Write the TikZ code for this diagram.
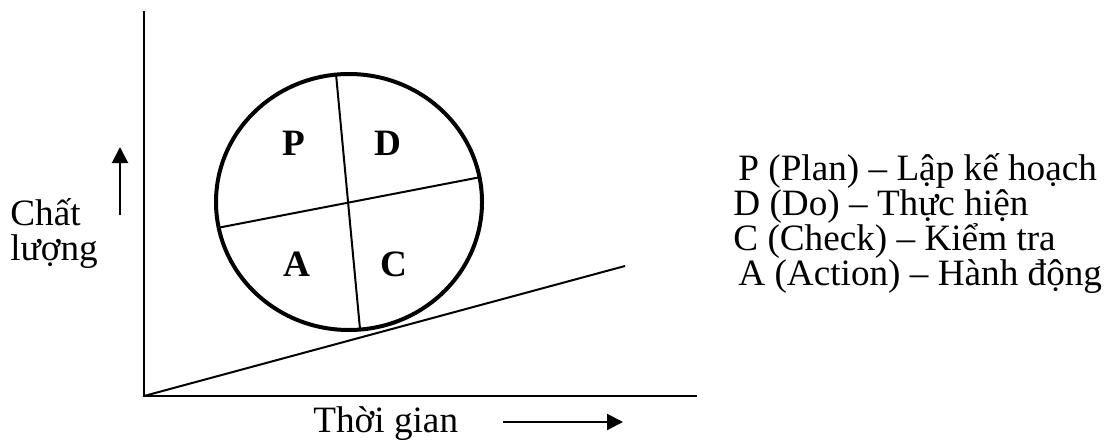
\documentclass[tikz,border=0pt]{standalone}
\usepackage{fontspec}
\setmainfont{Liberation Serif}
\usetikzlibrary{arrows.meta,positioning}
\tikzset{
  every picture/.style={font=\fontsize{18.6}{20}\selectfont},
  axis/.style={line width=1pt},
  ring/.style={line width=2pt},
  split/.style={line width=1pt},
  pointer/.style={line width=1pt,-{Triangle[length=8pt,width=8pt]}},
  quarter/.style={font=\fontsize{18.6}{20}\selectfont\bfseries,inner sep=0pt},
  key/.style={anchor=base west,inner sep=0pt},
}

\begin{document}
\begin{tikzpicture}[x=0.5pt,y=0.5pt]
  \useasboundingbox (0,0) rectangle (1107,440);
  % axes
  \coordinate (origin) at (144,44);
  \coordinate (ytop) at (144,429);
  \coordinate (xend) at (697,44);
  \coordinate (slope) at (625,174);
  \draw[axis] (ytop) -- (origin) -- (xend);
  \draw[axis] (origin) -- (slope);
  % wheel
  \coordinate (hub) at (349,238);
  \draw[ring] (hub) ellipse [x radius=133,y radius=128];
  \coordinate (vtop) at (336,366);
  \coordinate (vbot) at (360,111);
  \coordinate (hleft) at (217,212);
  \coordinate (hright) at (481,263);
  \draw[split] (vtop) -- (vbot);
  \draw[split] (hleft) -- (hright);
  \node[quarter] (plan) at (294,297) {P};
  \node[quarter] (do) at (388,297) {D};
  \node[quarter] (act) at (297,176) {A};
  \node[quarter] (check) at (394,176) {C};
  % axis labels
  \node[key] (chat) at (10,215) {Chất};
  \node[key] (luong) at (10,180) {lượng};
  \coordinate (upfoot) at (120,225);
  \coordinate (uptip) at (120,293);
  \draw[pointer] (upfoot) -- (uptip);
  \node[key] (time) at (313,8) {Thời gian};
  \coordinate (rfoot) at (503,18);
  \coordinate (rtip) at (623,18);
  \draw[pointer] (rfoot) -- (rtip);
  % key
  \node[key] (keyp) at (738,260) {P (Plan) – Lập kế hoạch};
  \node[key] (keyd) at (733,225) {D (Do) – Thực hiện};
  \node[key] (keyc) at (733,190) {C (Check) – Kiểm tra};
  \node[key] (keya) at (738,155) {A (Action) – Hành động};
\end{tikzpicture}
\end{document}
